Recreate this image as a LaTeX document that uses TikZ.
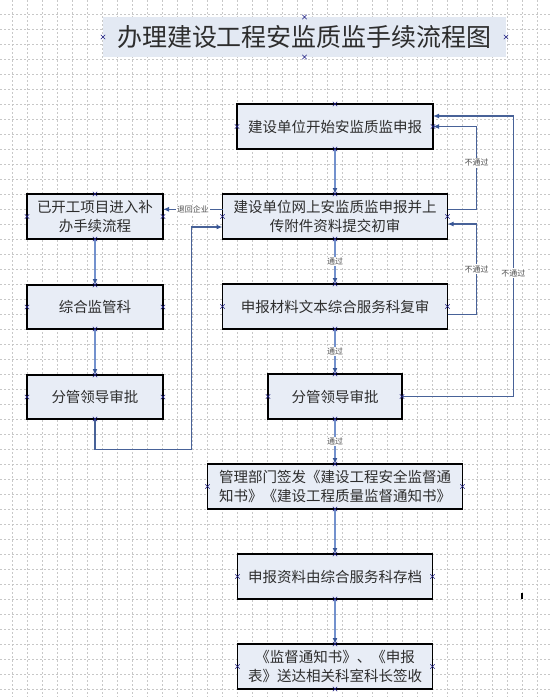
\documentclass[tikz,border=0pt]{standalone}
\usepackage{fontspec}
\setmainfont{Noto Sans CJK SC}
\usetikzlibrary{arrows.meta}
\definecolor{boxfill}{RGB}{232,237,246}
\definecolor{titlefill}{RGB}{227,233,243}
\definecolor{connc}{RGB}{115,145,205}
\definecolor{loopc}{RGB}{72,98,152}
\definecolor{tipc}{RGB}{55,85,150}
\definecolor{xc}{RGB}{30,30,130}
\definecolor{gridc}{RGB}{200,200,200}
\definecolor{txtc}{RGB}{45,45,45}
\begin{document}
\begin{tikzpicture}[x=1pt,y=-1pt,
 gridline/.style={gridc,line width=0.45pt,dash pattern=on 2pt off 2pt},
 box/.style={draw=black,line width=1.2pt,fill=boxfill,inner sep=0pt,outer sep=0pt,align=center,text=txtc,minimum height=45pt,font=\fontsize{14.5}{18.5}\selectfont},
 titlebox/.style={fill=titlefill,inner sep=0pt,outer sep=0pt,minimum width=403pt,minimum height=40pt,font=\fontsize{25}{30}\selectfont,text=txtc},
 conn/.style={connc,line width=1.8pt,-{Latex[length=6pt,width=5pt,color=tipc]}},
 loopl/.style={loopc,line width=1.2pt,-{Latex[length=6pt,width=5pt,color=tipc]}},
 lbl/.style={fill=white,inner sep=1pt,font=\fontsize{8}{9}\selectfont,text=black!70},
 xm/.style={xc,line width=0.6pt}]
\useasboundingbox (0,0) rectangle (551,697);
\fill[white] (0,0) rectangle (551,697);
% background grid
\foreach \i in {0,...,35} \draw[gridline] (12.3+15*\i,0) -- (12.3+15*\i,697);
\foreach \j in {0,...,45} \draw[gridline] (0,14.3+15*\j) -- (551,14.3+15*\j);

% title
\node[titlebox] (t) at (304.5,37) {办理建设工程安监质监手续流程图};

% main column
\node[box,minimum width=196pt] (b1) at (335,126.5) {建设单位开始安监质监申报};
\node[box,minimum width=225pt] (b2) at (335,216.5) {建设单位网上安监质监申报并上\\传附件资料提交初审};
\node[box,minimum width=225pt] (b3) at (335,306.5) {申报材料文本综合服务科复审};
\node[box,minimum width=134pt] (b4) at (335,396.5) {分管领导审批};
\node[box,minimum width=255pt] (b5) at (335,486.5) {管理部门签发《建设工程安全监督通\\知书》《建设工程质量监督通知书》};
\node[box,minimum width=195pt] (b6) at (335,576.5) {申报资料由综合服务科存档};
\node[box,minimum width=195pt] (b7) at (335,666.5) {《监督通知书》、《申报\\表》送达相关科室科长签收};

% left column
\node[box,minimum width=136pt] (l1) at (95,216.5) {已开工项目进入补\\办手续流程};
\node[box,minimum width=136pt,minimum height=44pt] (l2) at (95,307) {综合监管科};
\node[box,minimum width=136pt,minimum height=44pt] (l3) at (95,397) {分管领导审批};

% helper coordinates
\coordinate (r1) at (476.7,126.5);
\coordinate (r2) at (476.7,224);
\coordinate (r3) at (513.3,116);
\coordinate (c4) at (191.7,449.3);

% main flow
\draw[conn] (b1.south) -- (b2.north);
\draw[conn] (b2.south) -- node[lbl]{通过} (b3.north);
\draw[conn] (b3.south) -- node[lbl]{通过} (b4.north);
\draw[conn] (b4.south) -- node[lbl]{通过} (b5.north);
\draw[conn] (b5.south) -- (b6.north);
\draw[conn] (b6.south) -- (b7.north);
\draw[conn] (l1.south) -- (l2.north);
\draw[conn] (l2.south) -- (l3.north);

% rejection loops
\draw[loopl] ([yshift=7.3pt]b2.east) -| node[lbl,pos=0.78]{不通过} (r1) -- (b1.east);
\draw[loopl] ([yshift=-7.8pt]b3.east) -| node[lbl,pos=0.75]{不通过} (r2) -- ([yshift=-7.5pt]b2.east);
\draw[loopl] (b4.east) -| node[lbl,pos=0.72]{不通过} (r3) -- ([yshift=10.5pt]b1.east);
\draw[loopl] ([yshift=7.2pt]b2.west) -- node[lbl]{退回企业} ([yshift=7.2pt]l1.east);
\draw[loopl] (l3.south) |- (c4) |- ([yshift=-10.5pt]b2.west);

% small stray mark
\draw[black,line width=1.5pt] (522,593) -- (522,599);

% connection point marks
\foreach \n in {b1,b2,b3,b4,b5,b6,b7,l1,l2,l3,t} {
  \foreach \a in {north,south,east,west} {
    \draw[xm] (\n.\a) +(-2.2,-2.2) -- +(2.2,2.2) +(-2.2,2.2) -- +(2.2,-2.2);
  }
}
\end{tikzpicture}
\end{document}
